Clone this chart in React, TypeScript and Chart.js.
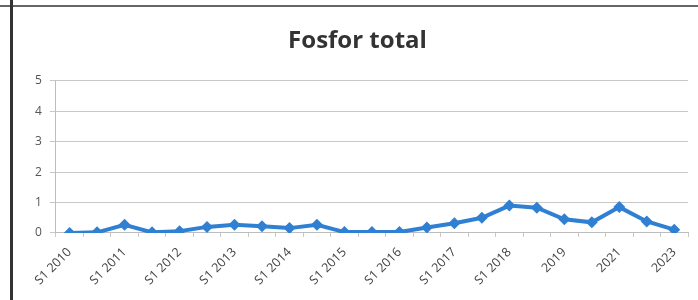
import React, { useEffect, useRef } from "react";
import { Chart, registerables } from "chart.js";

Chart.register(...registerables);

const categories: string[] = [
  "S1 2010", "S2 2010", "S1 2011", "S2 2011", "S1 2012", "S2 2012",
  "S1 2013", "S2 2013", "S1 2014", "S2 2014", "S1 2015", "S2 2015",
  "S1 2016", "S2 2016", "S1 2017", "S2 2017", "S1 2018", "S2 2018",
  "2019", "2020", "2021", "2022", "2023",
];

const fosforValues: number[] = [
  0, 0.02, 0.27, 0.02, 0.06, 0.2, 0.27, 0.22, 0.16, 0.27, 0.03, 0.03,
  0.03, 0.18, 0.32, 0.5, 0.9, 0.83, 0.45, 0.35, 0.85, 0.38, 0.11,
];

const yTicks: number[] = [0, 1, 2, 3, 4, 5];

const chartTitle = "Fosfor total";

export default function App() {
  const canvasRef = useRef<HTMLCanvasElement | null>(null);

  useEffect(() => {
    if (!canvasRef.current) return;
    const chart = new Chart(canvasRef.current, {
      type: "line",
      data: {
        labels: categories,
        datasets: [
          {
            label: chartTitle,
            data: fosforValues,
            borderColor: "#2f80d3",
            backgroundColor: "#2f80d3",
            borderWidth: 4,
            pointStyle: "rectRot",
            pointRadius: 6,
            pointBorderWidth: 0,
            tension: 0,
          },
        ],
      },
      options: {
        animation: false,
        responsive: false,
        layout: { padding: { left: 14, right: 10, top: 0, bottom: 4 } },
        plugins: {
          legend: { display: false },
          tooltip: { enabled: false },
          title: {
            display: true,
            text: chartTitle,
            color: "#333333",
            font: { family: "'Open Sans', sans-serif", size: 24, weight: "bold" },
            padding: { top: 19, bottom: 25 },
          },
        },
        scales: {
          x: {
            type: "category",
            offset: true,
            grid: {
              offset: true,
              drawOnChartArea: false,
              drawTicks: true,
              tickLength: 4,
              color: "#c8c8c8",
            },
            border: { display: true, color: "#bdbdbd", width: 1 },
            ticks: {
              autoSkip: false,
              maxRotation: 45,
              minRotation: 45,
              color: "#444444",
              padding: 8,
              font: { family: "'Open Sans', sans-serif", size: 12.5 },
              callback: (_v: any, i: number) => (i % 2 === 0 ? categories[i] : ""),
            },
          },
          y: {
            min: yTicks[0],
            max: yTicks[yTicks.length - 1],
            afterBuildTicks: (axis: any) => {
              axis.ticks = yTicks.map((v) => ({ value: v }));
            },
            grid: { color: "#c8c8c8", lineWidth: 1, tickLength: 6 },
            border: { display: true, color: "#bdbdbd" },
            ticks: {
              color: "#555555",
              padding: 8,
              font: { family: "'Open Sans', sans-serif", size: 12 },
            },
          },
        },
      },
    });
    return () => chart.destroy();
  }, []);

  return (
    <div
      style={{
        position: "fixed",
        left: 0,
        top: 0,
        width: 698,
        height: 300,
        background: "#ffffff",
        overflow: "hidden",
      }}
    >
      <div style={{ position: "absolute", left: 0, top: 5, width: 698, height: 2, background: "#666" }} />
      <div style={{ position: "absolute", left: 10, top: 0, width: 3, height: 300, background: "#333" }} />
      <canvas
        ref={canvasRef}
        width={685}
        height={292}
        style={{ position: "absolute", left: 13, top: 8, width: 685, height: 292 }}
      />
    </div>
  );
}
